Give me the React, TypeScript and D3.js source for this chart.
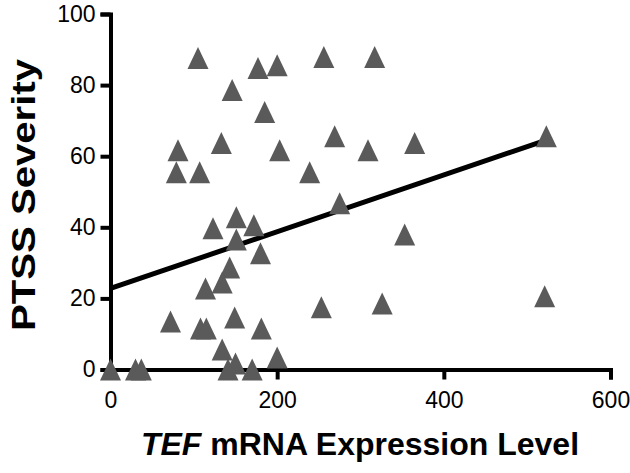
import React, { useRef, useEffect } from 'react';
import * as d3 from 'd3';

// TEF mRNA expression level (x) and PTSS severity (y)
const tefLevels = [
  105, 177, 200, 146, 185, 81, 133, 203, 79, 107, 239, 256, 317, 269, 309,
  365, 275, 523, 353, 253, 326, 521, 123, 151, 172, 151, 180, 143, 134, 114,
  72, 108, 115, 149, 181, 134, 200, 0, 30, 37, 141, 150, 170,
];
const ptssScores = [
  87.6, 84.8, 85.6, 78.6, 72.4, 61.7, 63.7, 61.7, 55.5, 55.5, 55.5, 87.9, 87.9,
  65.6, 61.7, 63.7, 46.8, 65.6, 38, 17.5, 18.6, 20.6, 39.7, 42.8, 40.6, 36.6,
  32.7, 28.7, 24.5, 22.8, 13.5, 11.5, 11.5, 14.6, 11.5, 5.6, 3.4, 0, 0, 0, 0,
  1.7, 0,
];
const xTicks = [0, 200, 400, 600];
const yTicks = [0, 20, 40, 60, 80, 100];

// regression line, as drawn
const fitIntercept = 22.8;
const fitSlope = 0.0798;

const WIDTH = 630;
const HEIGHT = 473;

const App = () => {
  const svgRef = useRef<SVGSVGElement>(null);

  useEffect(() => {
    const svg = d3.select(svgRef.current);
    svg.selectAll('*').remove();

    const x = d3.scaleLinear().domain([0, 600]).range([110.5, 610.5]);
    const y = d3.scaleLinear().domain([0, 100]).range([369.5, 14]);

    const font = 'Arial, "Liberation Sans", Helvetica, sans-serif';

    // y axis
    const yAxis = svg.append('g')
      .attr('transform', `translate(${x(0)},0)`)
      .call(d3.axisLeft(y).tickValues(yTicks).tickSize(10).tickPadding(5));
    // x axis
    const xAxis = svg.append('g')
      .attr('transform', `translate(0,${y(0)})`)
      .call(d3.axisBottom(x).tickValues(xTicks).tickSize(10).tickPadding(12));

    [yAxis, xAxis].forEach(g => {
      g.select('.domain').attr('stroke', '#000').attr('stroke-width', 4)
        .attr('stroke-linejoin', 'miter');
      g.selectAll('.tick line').attr('stroke', '#000').attr('stroke-width', 4);
      g.selectAll('.tick text')
        .attr('fill', '#000')
        .style('font-family', font)
        .style('font-size', '23px');
    });

    // fit line from 0 to the largest x
    const maxX = d3.max(tefLevels) as number;
    const line = d3.line<number>()
      .x(d => x(d))
      .y(d => y(fitIntercept + fitSlope * d));
    svg.append('path')
      .datum([0, maxX])
      .attr('d', line)
      .attr('fill', 'none')
      .attr('stroke', '#000')
      .attr('stroke-width', 5);

    // triangles (bbox centred on the point)
    const tw = 21;
    const th = 22;
    const points = tefLevels.map((v, i) => ({ x: v, y: ptssScores[i] }));
    svg.append('g')
      .selectAll('path')
      .data(points)
      .enter().append('path')
      .attr('d', d => {
        const cx = x(d.x);
        const cy = y(d.y);
        return `M${cx},${cy - th / 2}L${cx + tw / 2},${cy + th / 2}L${cx - tw / 2},${cy + th / 2}Z`;
      })
      .attr('fill', '#5a5a5a');

    // axis titles
    svg.append('text')
      .attr('transform', 'translate(35,195) rotate(-90) scale(1.18,1)')
      .attr('text-anchor', 'middle')
      .style('font-family', font)
      .style('font-size', '34px')
      .style('font-weight', 'bold')
      .text('PTSS Severity');

    const xt = svg.append('text')
      .attr('x', 360)
      .attr('y', 455)
      .attr('text-anchor', 'middle')
      .style('font-family', font)
      .style('font-size', '32px')
      .style('font-weight', 'bold');
    xt.append('tspan').style('font-style', 'italic').text('TEF');
    xt.append('tspan').text(' mRNA Expression Level');
  }, []);

  return (
    <svg
      ref={svgRef}
      width={WIDTH}
      height={HEIGHT}
      style={{ position: 'absolute', left: 0, top: 0, background: '#fff' }}
    />
  );
};

export default App;
